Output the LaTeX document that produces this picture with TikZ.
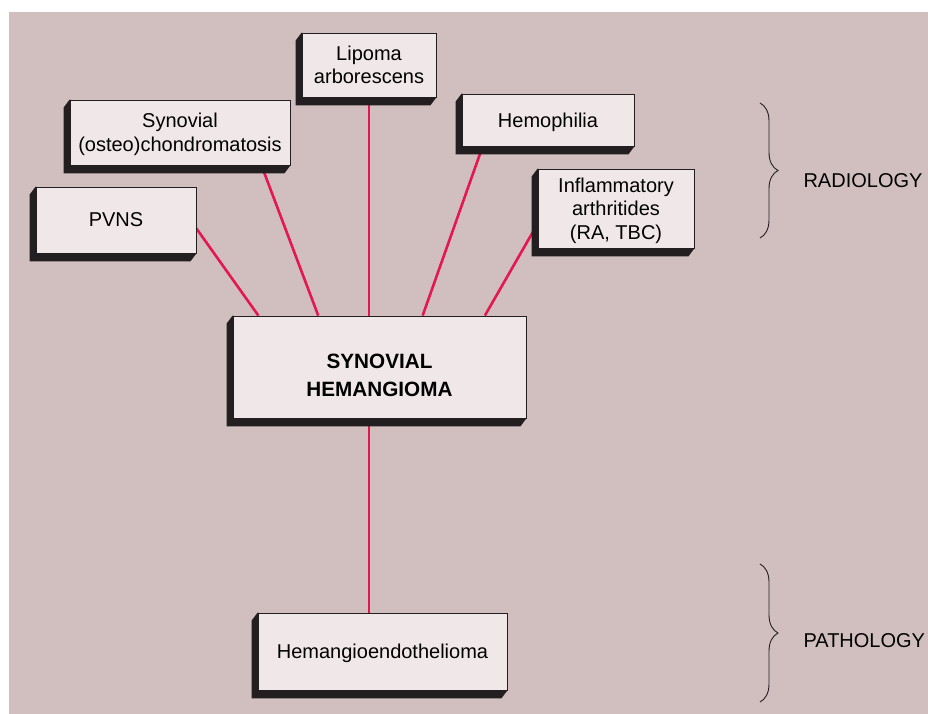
\documentclass[tikz,border=0pt]{standalone}
\usepackage{fontspec}
\setmainfont{Liberation Sans}
\usetikzlibrary{decorations.pathreplacing}

\definecolor{backdrop}{HTML}{D1BFC0}
\definecolor{face}{HTML}{F0E7E8}
\definecolor{ink}{HTML}{231F20}
\definecolor{link}{HTML}{E5174F}

\pgfdeclarelayer{background}
\pgfsetlayers{background,main}

% dark extrusion under a box, down and to the left
\newcommand{\slab}[1]{\fill[ink] (#1.north west) -- ++(-6,8) |- ([shift={(-6,8)}]#1.south east) -- (#1.south east) -- cycle;}
% two bold lines, sitting a little low in their box
\newcommand{\lowtitle}[2]{\raisebox{-15.5pt}[0pt][0pt]{\begin{tabular}{@{}c@{}}#1\\#2\end{tabular}}}

\begin{document}
\begin{tikzpicture}[x=1pt, y=-1pt,
    card/.style = {draw=ink, line width=0.8pt, fill=face, inner sep=0pt, align=center,
                   text depth=0pt, font=\fontsize{20}{23.5}\selectfont},
    tie/.style = {draw=link, line width=2.6pt},
    curly/.style = {draw=ink, line width=0.9pt, decorate, decoration={brace, amplitude=18pt}},
    side/.style = {anchor=west, font=\fontsize{20}{23.5}\selectfont}]
    \useasboundingbox (0,0) rectangle (928,714);

    \node[card, minimum width=293, minimum height=102,
          font=\fontsize{20.7}{28}\selectfont\bfseries] (main) at (379.5,367) {\lowtitle{SYNOVIAL}{HEMANGIOMA}};
    \node[card, minimum width=160, minimum height=66] (pvns) at (116,220) {PVNS};
    \node[card, minimum width=220, minimum height=65] (syn) at (180,132.5) {Synovial\\(osteo)chondromatosis};
    \node[card, minimum width=134, minimum height=64] (lip) at (369,65) {Lipoma\\arborescens};
    \node[card, minimum width=172, minimum height=52] (hemo) at (548,120) {Hemophilia};
    \node[card, minimum width=156, minimum height=79] (infl) at (616,208.5) {Inflammatory\\arthritides\\(RA, TBC)};
    \node[card, minimum width=249, minimum height=77] (hang) at (382.5,651.5) {Hemangioendothelioma};

    \node[side] (rad) at (800,181) {RADIOLOGY};
    \node[side] (path) at (800,641) {PATHOLOGY};
    \draw[curly] (760,103) -- (760,238);
    \draw[curly] (760,564) -- (760,702);

    \begin{pgfonlayer}{background}
        \fill[white] (0,0) rectangle (928,714);
        \fill[backdrop] (9,12) rectangle (928,714);

        \draw[tie] (pvns.-6) -- (main.157.2);
        \draw[tie] (syn.-22.1) -- (main.140.8);
        \draw[tie] (lip.south) -- (lip.south |- main.north);
        \draw[tie] (hemo.202.8) -- (main.50.2);
        \draw[tie] (infl.191.2) -- (main.26.9);
        \draw[tie] (main.south -| lip.south) -- (hang.north -| lip.south);

        \foreach \b in {main, pvns, syn, lip, hemo, infl, hang}
            \slab{\b};
    \end{pgfonlayer}
\end{tikzpicture}
\end{document}
